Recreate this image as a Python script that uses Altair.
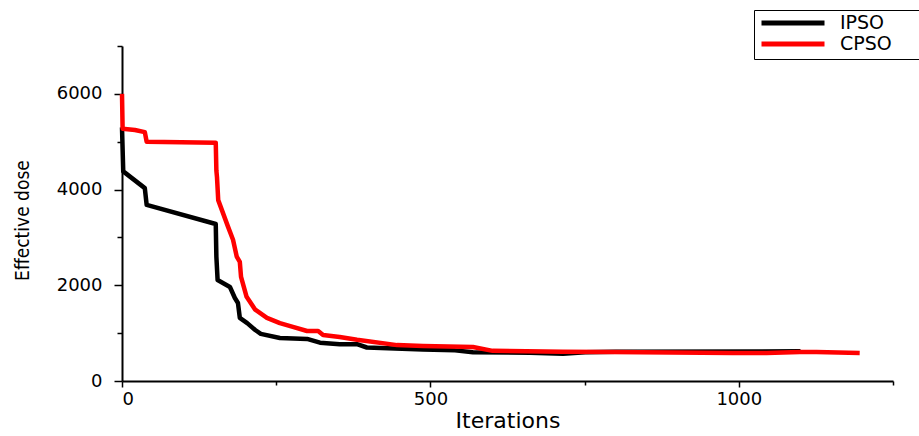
import altair as alt
import pandas as pd

# Convergence curves: best effective dose found at each iteration
ipso_iter = [0, 2, 37, 40, 152, 153, 155, 175, 183, 188, 191, 203, 216, 225,
             256, 300, 321, 353, 381, 397, 488, 540, 569, 661, 715, 751, 800, 1100]
ipso_dose = [5300, 4380, 4030, 3680, 3280, 2600, 2110, 1965, 1735, 1630, 1320,
             1210, 1066, 985, 900, 880, 800, 770, 770, 700, 660, 640, 600, 590,
             570, 600, 610, 620]

cpso_iter = [0, 1, 21, 37, 40, 152, 153, 154, 156, 172, 180, 186, 191, 193,
             202, 216, 235, 256, 277, 300, 318, 326, 353, 381, 446, 488, 569,
             601, 715, 791, 990, 1045, 1099, 1126, 1196]
cpso_dose = [6000, 5270, 5245, 5200, 5000, 4980, 4400, 4260, 3780, 3220, 2950,
             2600, 2490, 2175, 1760, 1490, 1320, 1210, 1130, 1045, 1045, 960,
             920, 860, 750, 730, 710, 630, 610, 606, 585, 585, 606, 606, 585]

series_names = ["IPSO", "CPSO"]
series_colors = ["#000000", "#ff0000"]

x_ticks = [0, 250, 500, 750, 1000, 1250]
y_ticks = [0, 1000, 2000, 3000, 4000, 5000, 6000, 7000]

frames = []
for name, xs, ys in [("IPSO", ipso_iter, ipso_dose), ("CPSO", cpso_iter, cpso_dose)]:
    frames.append(pd.DataFrame({"series": name, "iter": xs, "dose": ys,
                                "idx": range(len(xs))}))
df = pd.concat(frames, ignore_index=True)

# blank braille cells after each label widen the legend frame on the right
legend_pad = "\u2800" * 2

color = alt.Color(
    "series:N",
    scale=alt.Scale(domain=series_names, range=series_colors),
    legend=alt.Legend(
        title=None,
        orient="none",
        legendX=632,
        legendY=-36,
        direction="vertical",
        symbolType="stroke",
        symbolSize=3969,
        symbolStrokeWidth=5,
        labelFont="DejaVu Sans",
        labelFontSize=19,
        labelColor="black",
        labelOffset=13,
        labelExpr=f"datum.label + '{legend_pad}'",
        padding=5,
        rowPadding=2,
        clipHeight=16,
        strokeColor="black",
        fillColor="white",
    ),
)

x_enc = alt.X(
    "iter:Q",
    scale=alt.Scale(domain=[0, 1250], nice=False, zero=False),
    axis=alt.Axis(
        values=x_ticks,
        format="d",
        labelExpr="datum.value % 500 === 0 ? datum.label : ''",
        tickSize={"condition": {"test": "datum.value % 500 === 0", "value": 6}, "value": 4},
        title="Iterations",
        titleFont="DejaVu Sans",
        titleFontSize=22,
        titleFontWeight="normal",
        titleColor="black",
        titleY=46,
        titleBaseline="alphabetic",
        labelPadding=3,
    ),
)

y_enc = alt.Y(
    "dose:Q",
    scale=alt.Scale(domain=[0, 7000], nice=False),
    axis=alt.Axis(
        values=y_ticks,
        format="d",
        labelExpr="datum.value % 2000 === 0 ? datum.label : ''",
        tickSize={"condition": {"test": "datum.value % 2000 === 0", "value": 8}, "value": 5},
        title="Effective dose",
        titleFont="Liberation Sans Narrow, DejaVu Sans Condensed, Liberation Sans",
        titleFontSize=19,
        titleFontWeight="normal",
        titleColor="black",
        titleX=-100,
        titleY=174,
        titleAngle=-90,
        titleAlign="center",
        titleBaseline="middle",
        labelPadding=12,
    ),
)

base = alt.Chart(df).mark_line(strokeWidth=4.5, strokeJoin="round").encode(
    x=x_enc,
    y=y_enc,
    color=color,
    order=alt.Order("idx:Q"),
)

ipso_line = base.transform_filter(alt.datum.series == "IPSO")
cpso_line = base.transform_filter(alt.datum.series == "CPSO")

chart = (
    alt.layer(ipso_line, cpso_line)
    .properties(
        width=771,
        height=335,
        autosize=alt.AutoSizeParams(type="none"),
        padding={"left": 122, "top": 46, "right": 26, "bottom": 55},
        background="white",
    )
    .configure_view(stroke=None)
    .configure_axis(
        grid=False,
        domainColor="black",
        domainWidth=2,
        tickColor="black",
        tickWidth=1.5,
        labelFont="DejaVu Sans",
        labelFontSize=18,
        labelColor="black",
    )
)

chart.save("out.html", embed_options={"renderer": "svg", "actions": False})
